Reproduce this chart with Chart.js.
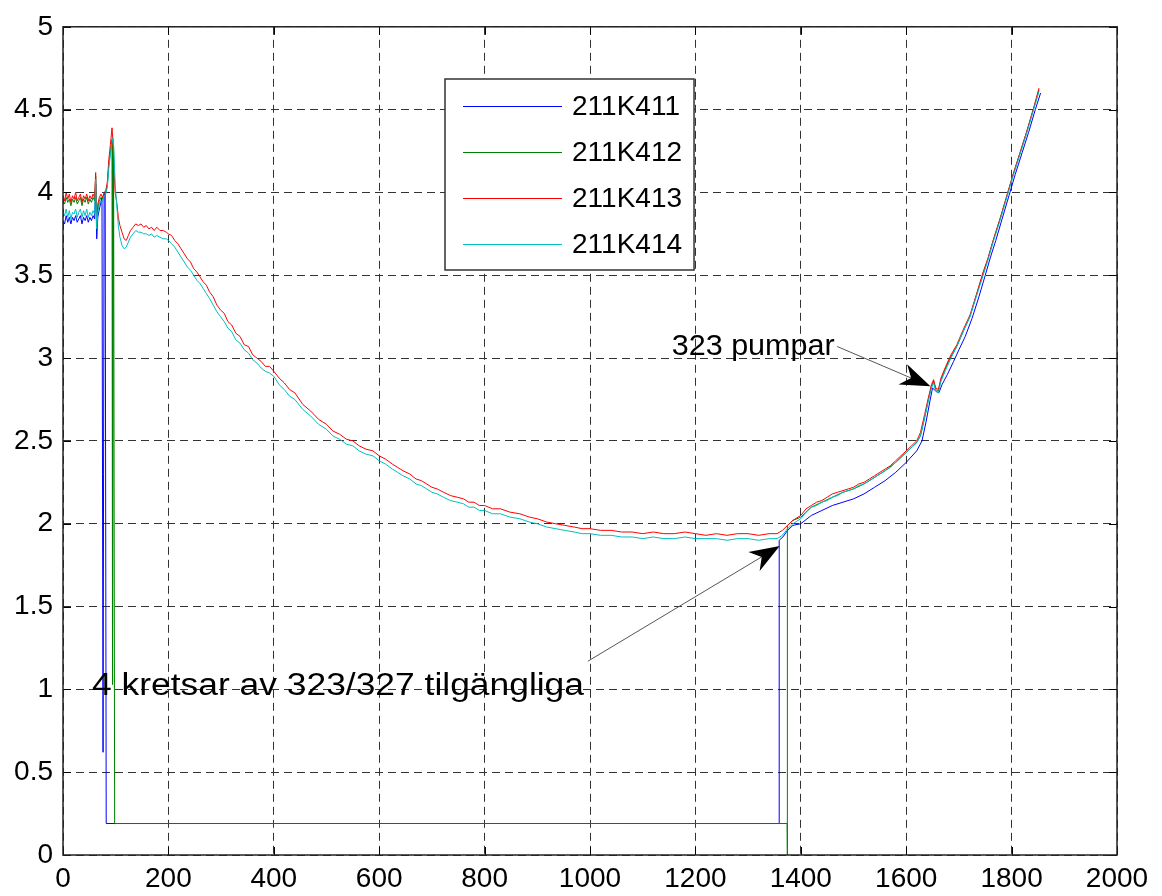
<!DOCTYPE html>
<html>
<head>
<meta charset="utf-8">
<script src="https://cdn.jsdelivr.net/npm/chart.js@4/dist/chart.umd.min.js"></script>
<style>
  body { margin: 0; background: #fff; }
  #wrap { width: 1162px; height: 896px; }
</style>
</head>
<body>
<div id="wrap"><canvas id="myChart" width="1162" height="896"></canvas></div>
<script>
// series names (legend)
const seriesNames = ['211K411', '211K412', '211K413', '211K414'];
const seriesColors = ['#0000ff', '#008000', '#ff0000', '#00bfbf'];

// axis ticks
const xTicks = [0, 200, 400, 600, 800, 1000, 1200, 1400, 1600, 1800, 2000];
const yTicks = [0, 0.5, 1, 1.5, 2, 2.5, 3, 3.5, 4, 4.5, 5];

// readings [x, value]
const blueData = [[0,3.83],[3,3.81],[6,3.86],[9,3.82],[12,3.85],[15,3.81],[18,3.85],[21,3.83],[24,3.86],[27,3.82],[30,3.84],[33,3.86],[36,3.81],[39,3.85],[42,3.83],[45,3.86],[48,3.82],[51,3.85],[54,3.83],[57,3.86],[60,3.84],[62,4.05],[64,3.72],[66,3.85],[69,3.9],[72,3.94],[74,3.97],[76,0.62],[78,3.98],[80,4.0],[82,0.19],
  [1359,0.19],[1359,1.9],[1366,1.92],[1375,1.96],[1385,1.99],[1400,2.0],[1420,2.05],[1440,2.08],[1460,2.11],[1480,2.13],[1500,2.15],[1520,2.18],[1540,2.22],[1560,2.26],[1580,2.31],[1600,2.37],[1620,2.44],[1630,2.5],[1638,2.62],[1645,2.74],[1650,2.82],[1656,2.8],[1662,2.79],[1668,2.84],[1678,2.9],[1690,2.98],[1700,3.05],[1712,3.13],[1725,3.24],[1738,3.37],[1750,3.5],[1760,3.61],[1770,3.71],[1782,3.84],[1795,3.98],[1807,4.11],[1820,4.24],[1832,4.36],[1845,4.5],[1855,4.6]];

const greenData = [[0,3.95],[3,3.93],[6,3.97],[9,3.94],[12,3.96],[15,3.92],[18,3.96],[21,3.94],[24,3.97],[27,3.93],[30,3.95],[33,3.97],[36,3.92],[39,3.96],[42,3.94],[45,3.97],[48,3.93],[51,3.96],[54,3.94],[57,3.97],[60,3.95],[62,4.1],[64,3.79],[66,3.9],[69,3.95],[72,3.97],[75,3.96],[78,3.99],[81,4.0],[84,4.04],[87,4.17],[90,4.25],[93,4.32],[94,1.03],[96,4.28],[98,0.19],
  [1374,0.19],[1374,0],[1375,1.99],[1385,2.02],[1400,2.04],[1420,2.1],[1440,2.13],[1460,2.16],[1480,2.19],[1500,2.21],[1520,2.24],[1540,2.28],[1560,2.32],[1580,2.37],[1600,2.43],[1620,2.49],[1627,2.53],[1635,2.64],[1642,2.75],[1648,2.83],[1652,2.86],[1656,2.81],[1661,2.8],[1666,2.87],[1675,2.94],[1685,3.01],[1696,3.07],[1708,3.16],[1721,3.25],[1733,3.38],[1746,3.51],[1755,3.6],[1765,3.71],[1778,3.84],[1791,3.98],[1803,4.11],[1816,4.24],[1828,4.36],[1841,4.5],[1852,4.62]];

const redData = [[0,3.98],[3,3.95],[6,4.0],[9,3.96],[12,3.99],[15,3.94],[18,3.98],[21,3.96],[24,4.0],[27,3.95],[30,3.97],[33,3.99],[36,3.94],[39,3.98],[42,3.96],[45,3.99],[48,3.95],[51,3.98],[54,3.96],[57,3.99],[60,3.97],[62,4.12],[64,3.8],[66,3.93],[69,3.97],[72,3.99],[75,3.97],[78,4.0],[81,4.01],[84,4.06],[87,4.2],[90,4.29],[93,4.39],[95,4.3],[97,4.12],[99,4.0],[102,3.94],[105,3.85],[108,3.8],[112,3.76],[116,3.72],[120,3.71],[124,3.74],[128,3.77],[133,3.79],[138,3.81],[143,3.8],[148,3.81],[153,3.79],[158,3.8],[163,3.78],[168,3.79],[173,3.77],[178,3.79],[184,3.77],[190,3.77],[196,3.76],[200,3.75],
  [206,3.74],[212,3.71],[218,3.69],[224,3.66],[230,3.63],[236,3.6],[242,3.58],[248,3.54],[254,3.52],[260,3.49],[266,3.46],[272,3.44],[278,3.4],[285,3.37],[292,3.32],[299,3.29],[306,3.27],[313,3.22],[320,3.2],[328,3.15],[336,3.13],[344,3.08],[352,3.07],[360,3.02],[368,3.0],[376,2.98],[384,2.95],[392,2.95],[400,2.92],[410,2.88],[420,2.85],[430,2.81],[440,2.79],[455,2.72],[470,2.68],[485,2.63],[500,2.6],[512,2.56],[525,2.54],[538,2.51],[550,2.5],[562,2.47],[575,2.45],[588,2.44],[600,2.41],[612,2.39],[625,2.36],[635,2.34],[645,2.32],[658,2.3],[670,2.27],[680,2.26],[690,2.24],[700,2.22],[710,2.21],[722,2.19],[735,2.17],[748,2.16],[760,2.15],[770,2.13],[780,2.13],[790,2.11],[800,2.11],[815,2.09],[830,2.09],[848,2.07],[867,2.06],[885,2.04],[900,2.03],[918,2.01],[935,2.0],[952,1.99],[970,1.98],[985,1.97],[1000,1.97],
  [1020,1.96],[1040,1.96],[1060,1.95],[1080,1.95],[1100,1.94],[1120,1.95],[1140,1.94],[1160,1.94],[1180,1.95],[1200,1.94],[1220,1.93],[1240,1.94],[1260,1.93],[1280,1.94],[1300,1.94],[1320,1.93],[1340,1.94],[1355,1.94],[1365,1.96],[1375,1.99],[1385,2.02],[1400,2.05],[1410,2.09],[1420,2.11],[1430,2.13],[1440,2.14],[1450,2.16],[1460,2.18],[1470,2.19],[1480,2.2],[1490,2.21],[1500,2.22],[1510,2.24],[1520,2.25],[1530,2.27],[1540,2.29],[1550,2.31],[1560,2.33],[1570,2.35],[1580,2.38],[1590,2.41],[1600,2.44],[1610,2.47],[1620,2.5],[1627,2.55],[1635,2.66],[1642,2.76],[1648,2.84],[1652,2.87],[1656,2.82],[1661,2.81],[1666,2.88],[1675,2.95],[1685,3.02],[1696,3.08],[1708,3.17],[1721,3.26],[1733,3.38],[1746,3.52],[1755,3.6],[1765,3.71],[1778,3.84],[1791,3.98],[1803,4.11],[1816,4.24],[1828,4.36],[1841,4.5],[1852,4.63]];

const cyanData = [[0,3.88],[3,3.86],[6,3.9],[9,3.85],[12,3.89],[15,3.84],[18,3.88],[21,3.87],[24,3.9],[27,3.85],[30,3.88],[33,3.9],[36,3.85],[39,3.89],[42,3.86],[45,3.9],[48,3.85],[51,3.88],[54,3.86],[57,3.89],[60,3.87],[62,4.08],[64,3.78],[66,3.88],[69,3.93],[72,3.95],[75,3.94],[78,3.98],[81,3.99],[84,4.03],[87,4.15],[90,4.23],[93,4.3],[95,4.33],[97,4.22],[99,4.05],[102,3.92],[105,3.8],[108,3.73],[112,3.68],[116,3.66],[120,3.67],[124,3.7],[128,3.73],[133,3.75],[138,3.77],[143,3.76],[148,3.76],[153,3.75],[158,3.75],[163,3.74],[168,3.75],[173,3.73],[178,3.74],[184,3.73],[190,3.72],[196,3.72],[200,3.71],
  [206,3.69],[212,3.67],[218,3.64],[224,3.61],[230,3.58],[236,3.55],[242,3.53],[248,3.5],[254,3.47],[260,3.45],[266,3.42],[272,3.39],[278,3.36],[285,3.32],[292,3.28],[299,3.25],[306,3.22],[313,3.18],[320,3.16],[328,3.11],[336,3.09],[344,3.05],[352,3.03],[360,2.99],[368,2.97],[376,2.94],[384,2.92],[392,2.91],[400,2.89],[410,2.84],[420,2.81],[430,2.77],[440,2.75],[455,2.69],[470,2.65],[485,2.6],[500,2.57],[512,2.53],[525,2.51],[538,2.48],[550,2.47],[562,2.44],[575,2.42],[588,2.41],[600,2.38],[612,2.36],[625,2.33],[635,2.31],[645,2.29],[658,2.27],[670,2.24],[680,2.23],[690,2.21],[700,2.19],[710,2.18],[722,2.16],[735,2.14],[748,2.13],[760,2.12],[770,2.1],[780,2.1],[790,2.08],[800,2.08],[815,2.06],[830,2.06],[848,2.04],[867,2.03],[885,2.01],[900,2.0],[918,1.98],[935,1.97],[952,1.96],[970,1.95],[985,1.94],[1000,1.94],
  [1020,1.93],[1040,1.93],[1060,1.92],[1080,1.92],[1100,1.91],[1120,1.92],[1140,1.91],[1160,1.91],[1180,1.92],[1200,1.91],[1220,1.91],[1240,1.91],[1260,1.9],[1280,1.91],[1300,1.91],[1320,1.9],[1340,1.91],[1355,1.91],[1365,1.93],[1375,1.97],[1385,2.0],[1400,2.03],[1410,2.07],[1420,2.1],[1430,2.11],[1440,2.13],[1450,2.14],[1460,2.16],[1470,2.17],[1480,2.19],[1490,2.2],[1500,2.21],[1510,2.23],[1520,2.24],[1530,2.26],[1540,2.28],[1550,2.3],[1560,2.32],[1570,2.34],[1580,2.37],[1590,2.4],[1600,2.43],[1610,2.46],[1620,2.49],[1627,2.53],[1635,2.64],[1642,2.74],[1648,2.82],[1652,2.85],[1656,2.8],[1661,2.79],[1666,2.86],[1675,2.93],[1685,3.0],[1696,3.07],[1708,3.16],[1721,3.25],[1733,3.37],[1746,3.5],[1755,3.59],[1765,3.7],[1778,3.83],[1791,3.97],[1803,4.1],[1816,4.23],[1828,4.35],[1841,4.49],[1852,4.61]];

const allData = [blueData, greenData, redData, cyanData];

// text notes with arrows (data coordinates); width = rendered text width in px
const notes = [
  { text: '323 pumpar', tx: 1155, ty: 3.07, size: 30, width: 163, fromX: 1469, fromY: 3.07, toX: 1646, toY: 2.83 },
  { text: '4 kretsar av 323/327 tilgängliga', tx: 55, ty: 1.02, size: 31, width: 492, fromX: 996, fromY: 1.17, toX: 1360, toY: 1.865 }
];

const FONT = '"Liberation Sans", Arial, Helvetica, sans-serif';

function drawArrow(ctx, x0, y0, x1, y1) {
  const dx = x1 - x0, dy = y1 - y0;
  const len = Math.sqrt(dx * dx + dy * dy);
  const ux = dx / len, uy = dy / len;
  const nx = -uy, ny = ux;
  const L = 30, W = 11, notch = 9;
  ctx.save();
  ctx.strokeStyle = '#555';
  ctx.lineWidth = 1;
  ctx.beginPath();
  ctx.moveTo(x0, y0);
  ctx.lineTo(x1 - (L - notch) * ux, y1 - (L - notch) * uy);
  ctx.stroke();
  ctx.fillStyle = '#000';
  ctx.beginPath();
  ctx.moveTo(x1, y1);
  ctx.lineTo(x1 - L * ux + W * nx, y1 - L * uy + W * ny);
  ctx.lineTo(x1 - (L - notch) * ux, y1 - (L - notch) * uy);
  ctx.lineTo(x1 - L * ux - W * nx, y1 - L * uy - W * ny);
  ctx.closePath();
  ctx.fill();
  ctx.restore();
}

const extrasPlugin = {
  id: 'extras',
  afterDatasetsDraw(chart) {
    const ctx = chart.ctx;
    const a = chart.chartArea;
    const xs = chart.scales.x, ys = chart.scales.y;

    // inward tick marks
    ctx.save();
    ctx.strokeStyle = '#000';
    ctx.lineWidth = 1;
    ctx.beginPath();
    xTicks.forEach(v => {
      const px = Math.round(xs.getPixelForValue(v)) + 0.5;
      ctx.moveTo(px, a.bottom); ctx.lineTo(px, a.bottom - 8);
      ctx.moveTo(px, a.top); ctx.lineTo(px, a.top + 8);
    });
    yTicks.forEach(v => {
      const py = Math.round(ys.getPixelForValue(v)) + 0.5;
      ctx.moveTo(a.left, py); ctx.lineTo(a.left + 8, py);
      ctx.moveTo(a.right, py); ctx.lineTo(a.right - 8, py);
    });
    ctx.stroke();

    // frame
    ctx.lineWidth = 1.5;
    ctx.strokeStyle = '#222';
    ctx.strokeRect(a.left, a.top, a.right - a.left, a.bottom - a.top);
    ctx.restore();

    // notes
    notes.forEach(n => {
      ctx.save();
      ctx.font = n.size + 'px ' + FONT;
      ctx.fillStyle = '#000';
      ctx.textBaseline = 'middle';
      ctx.textAlign = 'left';
      const px = xs.getPixelForValue(n.tx), py = ys.getPixelForValue(n.ty);
      const sx = n.width / ctx.measureText(n.text).width;
      ctx.translate(px, py);
      ctx.scale(sx, 1);
      ctx.fillText(n.text, 0, 0);
      ctx.restore();
      drawArrow(ctx, xs.getPixelForValue(n.fromX), ys.getPixelForValue(n.fromY),
                xs.getPixelForValue(n.toX), ys.getPixelForValue(n.toY));
    });

    // legend box inside the plot
    const bx = 445, by = 79, rowH = 46;
    ctx.save();
    ctx.font = '28px ' + FONT;
    let tw = 0;
    seriesNames.forEach(s => { tw = Math.max(tw, ctx.measureText(s).width); });
    const bw = 127 + tw + 12, bh = 191;
    ctx.fillStyle = '#fff';
    ctx.fillRect(bx, by, bw, bh);
    ctx.strokeStyle = '#333';
    ctx.lineWidth = 1.5;
    ctx.strokeRect(bx, by, bw, bh);
    ctx.textBaseline = 'middle';
    seriesNames.forEach((s, i) => {
      const yy = by + 27 + i * rowH;
      ctx.strokeStyle = seriesColors[i];
      ctx.lineWidth = 1;
      ctx.beginPath();
      ctx.moveTo(bx + 18, yy + 0.5);
      ctx.lineTo(bx + 117, yy + 0.5);
      ctx.stroke();
      ctx.fillStyle = '#000';
      ctx.fillText(s, bx + 127, yy + 1);
    });
    ctx.restore();
  }
};

const datasets = allData.map((d, i) => ({
  label: seriesNames[i],
  data: d.map(p => ({ x: p[0], y: p[1] })),
  borderColor: seriesColors[i],
  borderWidth: 1,
  pointRadius: 0,
  tension: 0,
  fill: false,
  order: 4 - i
}));

const ctx = document.getElementById('myChart').getContext('2d');
new Chart(ctx, {
  type: 'line',
  data: { datasets: datasets },
  options: {
    responsive: false,
    animation: false,
    layout: { padding: { top: 24, right: 45, left: 0, bottom: 0 } },
    plugins: { legend: { display: false }, tooltip: { enabled: false } },
    scales: {
      x: {
        type: 'linear', min: 0, max: 2000,
        afterBuildTicks: s => { s.ticks = xTicks.map(v => ({ value: v })); },
        afterFit: s => { s.height = 41; },
        ticks: { color: '#000', font: { family: FONT, size: 28 }, padding: 7, maxRotation: 0, autoSkip: false, callback: v => String(v) },
        grid: { color: '#333', lineWidth: 1, drawTicks: false },
        border: { display: false, dash: [8, 5] }
      },
      y: {
        min: 0, max: 5,
        afterBuildTicks: s => { s.ticks = yTicks.map(v => ({ value: v })); },
        afterFit: s => { s.width = 63; },
        ticks: { color: '#000', font: { family: FONT, size: 28 }, padding: 10, callback: v => String(v) },
        grid: { color: '#333', lineWidth: 1, drawTicks: false },
        border: { display: false, dash: [8, 5] }
      }
    }
  },
  plugins: [extrasPlugin]
});
</script>
</body>
</html>
